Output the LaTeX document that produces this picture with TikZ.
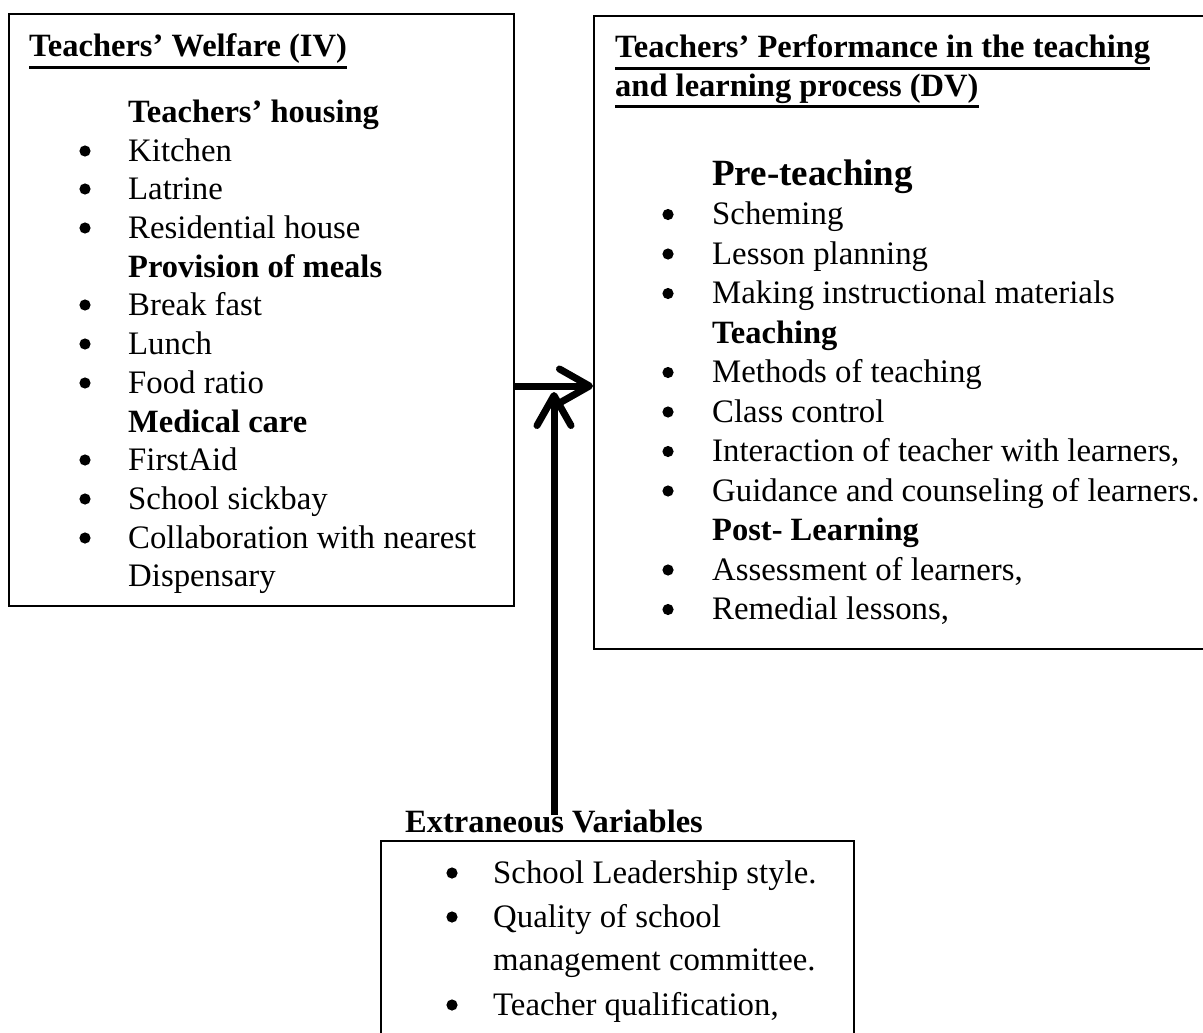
\documentclass[tikz,border=0pt]{standalone}
\usepackage{fontspec}
\setmainfont{Liberation Serif}
\usetikzlibrary{arrows.meta}
\newcommand\bull[2]{\fill (#1,#2-10) circle (5.6);}
\begin{document}
\begin{tikzpicture}[x=1pt,y=-1pt,
  box/.style={draw, line width=1.8pt, inner sep=0pt, anchor=north west},
  txt/.style={anchor=base west, inner sep=0pt, font=\fontsize{32.8}{38}\selectfont},
  hd/.style={txt, font=\fontsize{32.5}{38}\selectfont\bfseries},
  big/.style={txt, font=\fontsize{37}{44}\selectfont\bfseries},
  ul/.style={line width=2.6pt},
  arr/.style={line width=7pt, -{Straight Barb[length=30pt,width=34pt,round]}}
]
\useasboundingbox (0,0) rectangle (1203,1033);
\clip (0,0) rectangle (1203,1033);

% boxes
\node[box, minimum width=505pt, minimum height=592pt] (iv) at (8,13) {};
\node[box, minimum width=620pt, minimum height=633pt] (dv) at (593,15) {};
\node[box, minimum width=473pt, minimum height=250pt] (ev) at (380,840) {};

% left box
\node[hd] (ivt) at (29,57) {Teachers’ Welfare (IV)};
\draw[ul] ([yshift=-10.5pt]ivt.base west) -- ([yshift=-10.5pt]ivt.base east);
\node[hd] (lh1) at (128,122) {Teachers’ housing};
\node[txt] (l1) at (128,161) {Kitchen};
\node[txt] (l2) at (128,199) {Latrine};
\node[txt] (l3) at (128,238) {Residential house};
\node[hd] (lh2) at (128,277) {Provision of meals};
\node[txt] (l4) at (128,315) {Break fast};
\node[txt] (l5) at (128,354) {Lunch};
\node[txt] (l6) at (128,393) {Food ratio};
\node[hd] (lh3) at (128,432) {Medical care};
\node[txt] (l7) at (128,470) {FirstAid};
\node[txt] (l8) at (128,509) {School sickbay};
\node[txt] (l9) at (128,548) {Collaboration with nearest};
\node[txt] (l10) at (128,586) {Dispensary};
\bull{85}{161}\bull{85}{199}\bull{85}{238}
\bull{85}{315}\bull{85}{354}\bull{85}{393}
\bull{85}{470}\bull{85}{509}\bull{85}{548}

% right box
\node[hd] (dvt1) at (615,58) {Teachers’ Performance in the teaching};
\draw[ul] ([yshift=-10.5pt]dvt1.base west) -- ([yshift=-10.5pt]dvt1.base east);
\node[hd] (dvt2) at (615,96) {and learning process (DV)};
\draw[ul] ([yshift=-10.5pt]dvt2.base west) -- ([yshift=-10.5pt]dvt2.base east);
\node[big] (rh1) at (712,185) {Pre-teaching};
\node[txt] (r1) at (712,224.5) {Scheming};
\node[txt] (r2) at (712,264) {Lesson planning};
\node[txt] (r3) at (712,303.5) {Making instructional materials};
\node[hd] (rh2) at (712,343) {Teaching};
\node[txt] (r4) at (712,382.5) {Methods of teaching};
\node[txt] (r5) at (712,422) {Class control};
\node[txt] (r6) at (712,461.5) {Interaction of teacher with learners,};
\node[txt] (r7) at (712,501) {Guidance and counseling of learners.};
\node[hd] (rh3) at (712,540.5) {Post- Learning};
\node[txt] (r8) at (712,580) {Assessment of learners,};
\node[txt] (r9) at (712,619.5) {Remedial lessons,};
\bull{668}{224.5}\bull{668}{264}\bull{668}{303.5}
\bull{668}{382.5}\bull{668}{422}\bull{668}{461.5}\bull{668}{501}
\bull{668}{580}\bull{668}{619.5}

% bottom box
\node[hd] (evt) at (405,832) {Extraneous Variables};
\node[txt] (b1) at (493,883) {School Leadership style.};
\node[txt] (b2) at (493,927) {Quality of school};
\node[txt] (b3) at (493,970) {management committee.};
\node[txt] (b4) at (493,1015) {Teacher qualification,};
\bull{452}{883}\bull{452}{927}\bull{452}{1015}

% arrows
\coordinate (hy) at (550,386);
\draw[arr] (iv.east |- hy) -- (dv.west |- hy);
\coordinate (vs) at (554,815);
\coordinate (ve) at (554,392);
\draw[arr] (vs) -- (ve);
\end{tikzpicture}
\end{document}
